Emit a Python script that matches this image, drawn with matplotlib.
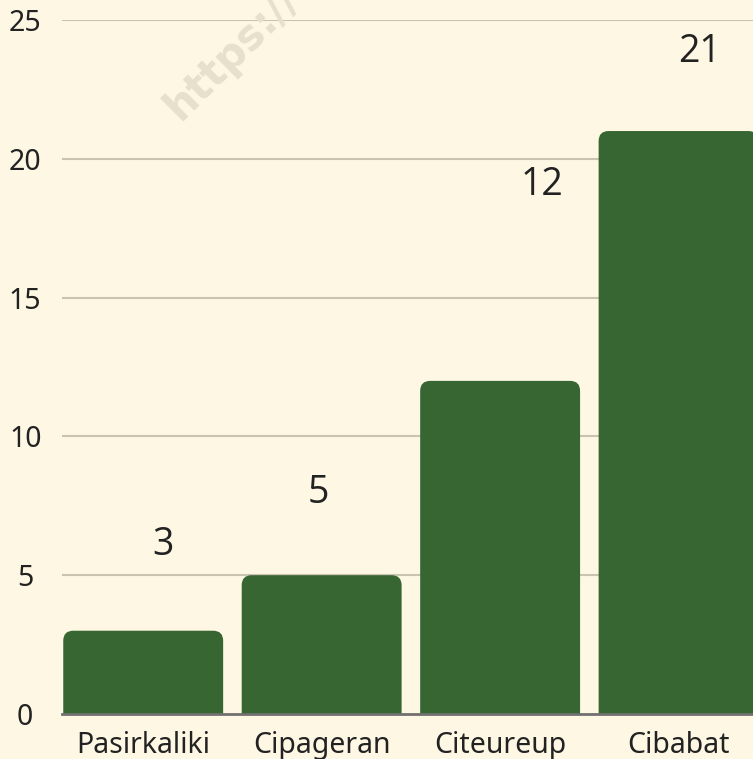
import matplotlib
matplotlib.use("Agg")
from matplotlib import pyplot as plt
from matplotlib.patches import FancyBboxPatch

# data
categories = ["Pasirkaliki", "Cipageran", "Citeureup", "Cibabat"]
values = [3, 5, 12, 21]
yticks = [0, 5, 10, 15, 20, 25]

# where the value labels sit (x offset from bar centre, y in data units)
label_dx = [0.11, -0.02, 0.235, 0.118]
label_y = [6.1, 7.95, 19.05, 23.85]

bg = "#fdf7e3"
bar_color = "#376632"
grid_color = "#c9c4b0"
text_color = "#222222"

W, H = 753, 759
fig = plt.figure(figsize=(W / 100, H / 100), dpi=100, facecolor=bg)

# axes placed in pixels: left 62, bottom line at 714, top (25) at 20, right cut at the figure edge
left, right, top, bottom = 62, 753, 20, 714
ax = fig.add_axes([left / W, (H - bottom) / H, (right - left) / W, (bottom - top) / H])
ax.set_facecolor(bg)

xmin, xmax = -0.455, 3.417
ymin, ymax = 0, 25
ax.set_xlim(xmin, xmax)
ax.set_ylim(ymin, ymax)

# gridlines behind the bars
for t in yticks[1:]:
    ax.axhline(t, color=grid_color, lw=1.5, zorder=1)

# bars with rounded top corners (bottom part goes below 0 and is clipped)
width = 0.896
px_x = (right - left) / (xmax - xmin)
px_y = (bottom - top) / (ymax - ymin)
r = 10 / px_x
aspect = px_x / px_y
for i, v in enumerate(values):
    p = FancyBboxPatch((i - width / 2, -2), width, v + 2,
                       boxstyle="round,pad=0,rounding_size=%f" % r,
                       mutation_aspect=aspect,
                       facecolor=bar_color, edgecolor="none", zorder=2)
    ax.add_patch(p)

ax.axhline(0, color="#707070", lw=2, zorder=3, clip_on=False)

# value labels
for i, v in enumerate(values):
    ax.text(i + label_dx[i], label_y[i], str(v), ha="center", va="center",
            fontsize=27, color=text_color, family="Open Sans", zorder=4)

# ticks
ax.set_xticks(range(len(categories)))
ax.set_xticklabels(categories, fontsize=20.5, color=text_color, family="Noto Sans")
ax.set_yticks(yticks)
ax.set_yticklabels([str(t) for t in yticks], fontsize=20.5, color=text_color,
                   family="Noto Sans", ha="center")
ax.tick_params(axis="x", length=0, pad=12)
ax.tick_params(axis="y", length=0, pad=26.5)

for s in ax.spines.values():
    s.set_visible(False)

# faint watermark at the top (cut by the top edge, as in the original)
fig.text(186 / W, 1 - 128 / H, "https://", rotation=45, fontsize=30,
         fontweight="bold", color="#e7e0cd", family="DejaVu Sans",
         ha="left", va="bottom", rotation_mode="anchor", zorder=0)

fig.savefig("out.png", dpi=100, facecolor=bg)
